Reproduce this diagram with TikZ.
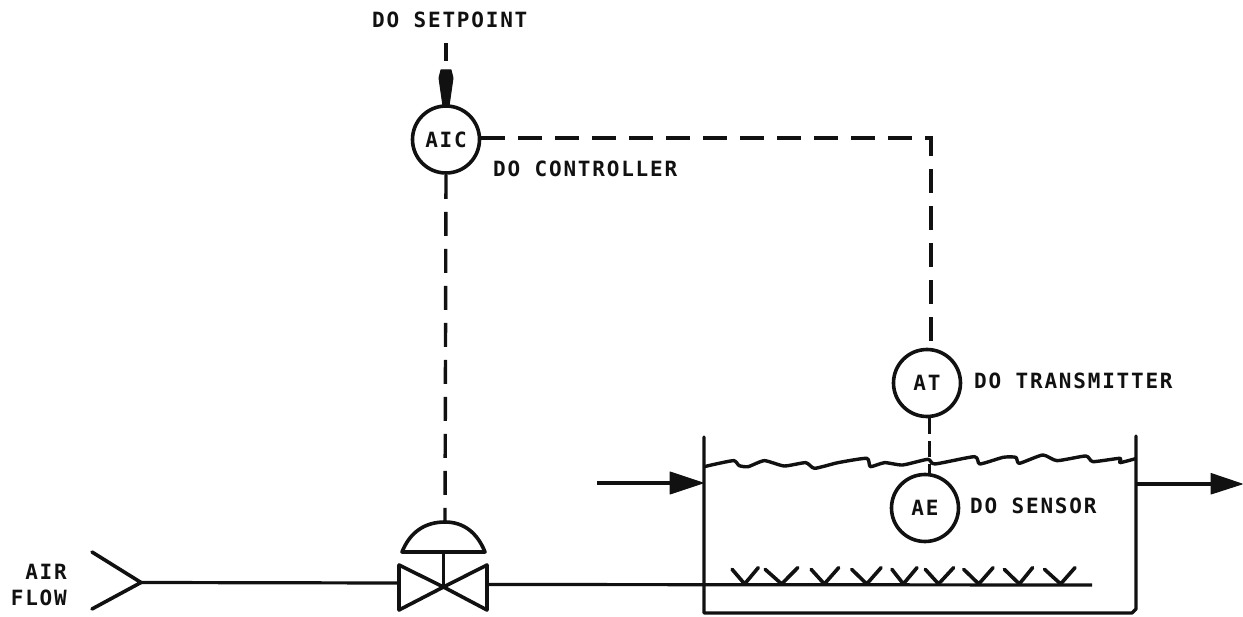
\documentclass[tikz,border=0pt]{standalone}
\usepackage{fontspec}
\setmainfont[LetterSpace=8.5,BoldFont={DejaVu Sans Mono Bold}]{DejaVu Sans Mono}
\definecolor{ink}{HTML}{111111}
\tikzset{
  line/.style={draw=ink,line width=3.6pt,line join=round,line cap=round},
  thin line/.style={draw=ink,line width=3.2pt,line join=round},
  signal/.style={draw=ink,line width=3.4pt,dash pattern=on 24pt off 13pt},
  instr/.style={circle,draw=ink,line width=3.6pt,minimum size=67pt,inner sep=0pt,text=ink,font=\fontsize{21}{21}\selectfont\bfseries},
  lbl/.style={text=ink,inner sep=0pt,font=\fontsize{21}{26}\selectfont\bfseries},
  head/.style={fill=ink,draw=ink,line width=1pt,line join=round}
}
\begin{document}
\begin{tikzpicture}[x=1pt,y=-1pt]
\useasboundingbox (0,0) rectangle (1243,617);
% instruments
\node[instr] (aic) at (446,139.5) {AIC};
\node[instr] (at) at (927,383) {AT};
\node[instr] (ae) at (925,508) {AE};
% labels
\node[lbl,anchor=west] (lsp) at (372,20) {DO SETPOINT};
\node[lbl,anchor=west] (lct) at (493,169) {DO CONTROLLER};
\node[lbl,anchor=west] (ltr) at (974,381) {DO TRANSMITTER};
\node[lbl,anchor=west] (lse) at (970,506) {DO SENSOR};
\node[lbl,anchor=east,align=right] (lair) at (67,585) {AIR\\FLOW};
% valve
\coordinate (vc) at (443.5,587);
\coordinate (vtl) at (399,565);
\coordinate (vbl) at (399,610);
\coordinate (vtr) at (487,565);
\coordinate (vbr) at (487,610);
\coordinate (vl) at (399,583);
\coordinate (vr) at (487,584.5);
\coordinate (dl) at (402,552);
\coordinate (dr) at (485,552);
\coordinate (ds) at (443.5,552);
\coordinate (dt) at (445,522);
\draw[line] (vc) -- (vtl) -- (vbl) -- (vc) -- (vtr) -- (vbr) -- cycle;
\draw[line] (dl) .. controls (410,532) and (425,522) .. (dt) .. controls (463,522) and (477,532) .. (dr) -- cycle;
\draw[line] (ds) -- (vc);
% air inlet
\coordinate (cht) at (92,552);
\coordinate (chb) at (92,609);
\coordinate (chv) at (141,582.5);
\draw[line] (cht) -- (chv) -- (chb);
\draw[thin line] (chv) -- (vl);
% tank
\coordinate (ttl) at (704,437);
\coordinate (ttr) at (1136,436);
\coordinate (tbl) at (704,613);
\coordinate (tbr) at (1136,609);
\draw[thin line,line cap=round] (ttl) -- (tbl) -- (1132,613) -- (tbr) -- (ttr);
% air header
\coordinate (hd) at (1092,585);
\draw[thin line] (vr) -- (hd);
% water surface and diffusers (zoomed-crop units)
\begin{scope}[shift={(680,340)},x=0.3591pt,y=-0.3333pt]
\draw[draw=ink,line width=3.4pt,line join=round]
 plot[smooth,tension=0.35] coordinates {(68,380) (100,372) (150,362) (165,377) (190,380) (235,362) (290,378) (350,368) (375,385) (440,368) (520,355) (530,380) (570,368) (620,375) (690,358) (710,372) (820,350) (835,372) (900,352) (935,352) (945,370) (1010,345) (1050,362) (1130,348) (1150,365) (1225,355) (1225,368) (1272,355)};
\foreach \a/\b/\c in {145/218/180,237/328/283,365/442/402,478/560/520,590/660/622,683/762/720,790/872/832,903/982/945,1015/1100/1060}
  \draw[line] (\a,688) -- (\c,732) -- (\b,683);
\end{scope}
% signals
\coordinate (sp) at (446,43);
\coordinate (spe) at (446,61);
\coordinate (corner) at (931,138);
\draw[line,line cap=butt] (sp) -- (spe);
\path[head] (441,70) -- (451,70) -- (453,78) -- (449,106) -- (443,106) -- (439,78) -- cycle;
\draw[signal] (aic.east |- corner) -- (corner) -- (corner |- at.north);
\draw[signal] (aic.south) -- (dt);
\draw[draw=ink,line width=3.4pt,dash pattern=on 16pt off 7pt] (at.south -| 929.5,417) -- (ae.north -| 929.5,474);
% process streams
\coordinate (fin) at (597,483);
\coordinate (fo) at (1137,484);
\coordinate (fe) at (1243,484);
\draw[draw=ink,line width=4pt] (fin) -- (672,483);
\path[head] (670,472) -- (703,483) -- (670,494) -- cycle;
\draw[draw=ink,line width=4pt] (fo) -- (1213,484);
\path[head] (1211,473.5) -- (1242,484) -- (1211,494) -- cycle;
\end{tikzpicture}
\end{document}
